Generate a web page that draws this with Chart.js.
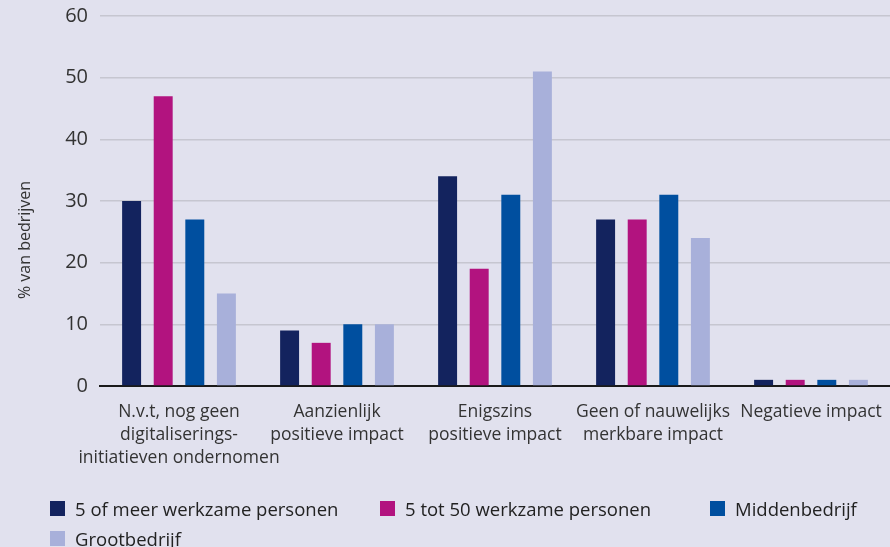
<!doctype html>
<html>
<head>
<meta charset="UTF-8">
<script src="https://cdn.jsdelivr.net/npm/chart.js@4.4.0/dist/chart.umd.min.js"></script>
<title>Impact digitalisering</title>
<style>
body{
	margin:0;
	background:#e1e1ee;
	font-family:"Open Sans", sans-serif;
}
#wrap{
	position:relative;
	width:890px;
	height:547px;
}
#legend{
	position:absolute;
	left:50px;
	top:493px;
	width:840px;
	display:flex;
	flex-wrap:wrap;
}
.item{
	width:330px;
	height:30px;
	display:flex;
	align-items:center;
	font-size:18.5px;
	color:#222;
}
.item:nth-child(3){ width:180px; }
.box{
	width:15px;
	height:15px;
	margin-right:10px;
}
</style>
</head>
<body>

<div id="wrap">
<canvas id="BarChart" width="890" height="547"></canvas>
<div id="legend"></div>
</div>

<script>

// categories
var categories = [
	["N.v.t, nog geen", "digitaliserings-", "initiatieven ondernomen"],
	["Aanzienlijk", "positieve impact"],
	["Enigszins", "positieve impact"],
	["Geen of nauwelijks", "merkbare impact"],
	["Negatieve impact"]
];

// series (% van bedrijven)
var meerDan5   = [30, 9, 34, 27, 1];
var tot50      = [47, 7, 19, 27, 1];
var midden     = [27, 10, 31, 31, 1];
var groot      = [15, 10, 51, 24, 1];

var seriesNames = ["5 of meer werkzame personen", "5 tot 50 werkzame personen", "Middenbedrijf", "Grootbedrijf"];
var colors = ["#13235e", "#b2137f", "#004f9f", "#a8b0da"];

var yTicks = [0, 10, 20, 30, 40, 50, 60];
var yTitle = "% van bedrijven";

var allSeries = [meerDan5, tot50, midden, groot];
var datasets = [];
for (var i = 0; i < allSeries.length; i++) {
	datasets.push({
		label: seriesNames[i],
		data: allSeries[i],
		backgroundColor: colors[i],
		categoryPercentage: 0.8,
		barPercentage: 0.6
	});
}

// y axis title, sits a bit lower than the middle of the axis
var yTitlePlugin = {
	id: 'yTitle',
	afterDraw: function(chart) {
		var c = chart.ctx;
		c.save();
		c.translate(25, 240);
		c.rotate(-Math.PI / 2);
		c.font = '16px "Open Sans"';
		c.fillStyle = '#333';
		c.textAlign = 'center';
		c.textBaseline = 'middle';
		c.fillText(yTitle, 0, 0);
		c.restore();
	}
};

var ctx = document.getElementById("BarChart");
var BarChart = new Chart(ctx, {
  type: 'bar',
  data: {
    labels: categories,
    datasets: datasets
  },
  plugins: [yTitlePlugin],
  options: {
	responsive: false,
	animation: false,
	layout: { padding: { top: 16, right: 0, left: 0, bottom: 0 } },
	plugins: {
		legend: { display: false },
		tooltip: { enabled: false }
	},
	scales: {
		x: {
			grid: { display: false, drawTicks: false },
			border: { color: '#1a1a1a', width: 2 },
			ticks: {
				color: '#333',
				font: { family: 'Open Sans', size: 17.5, lineHeight: 1.3 },
				padding: 15,
				maxRotation: 0,
				autoSkip: false
			},
			afterFit: function(scale) {
				scale.height = 161;
				scale.paddingLeft = 0;
				scale.paddingRight = 0;
			}
		},
		y: {
			min: 0,
			max: 60,
			afterBuildTicks: function(scale) {
				scale.ticks = yTicks.map(function(v) { return { value: v }; });
			},
			grid: { color: '#c6c6d0', lineWidth: 1.5, drawTicks: false },
			border: { display: false },
			ticks: {
				color: '#333',
				font: { family: 'Open Sans', size: 20 },
				padding: 12
			},
			afterFit: function(scale) {
				scale.width = 100;
				scale.paddingTop = 0;
				scale.paddingBottom = 0;
			}
		}
	}
  }
});

// legend
var legend = document.getElementById("legend");
for (var j = 0; j < seriesNames.length; j++) {
	var it = document.createElement("div");
	it.className = "item";
	it.innerHTML = '<span class="box" style="background:' + colors[j] + '"></span>' + seriesNames[j];
	legend.appendChild(it);
}

</script>
</body>
</html>
